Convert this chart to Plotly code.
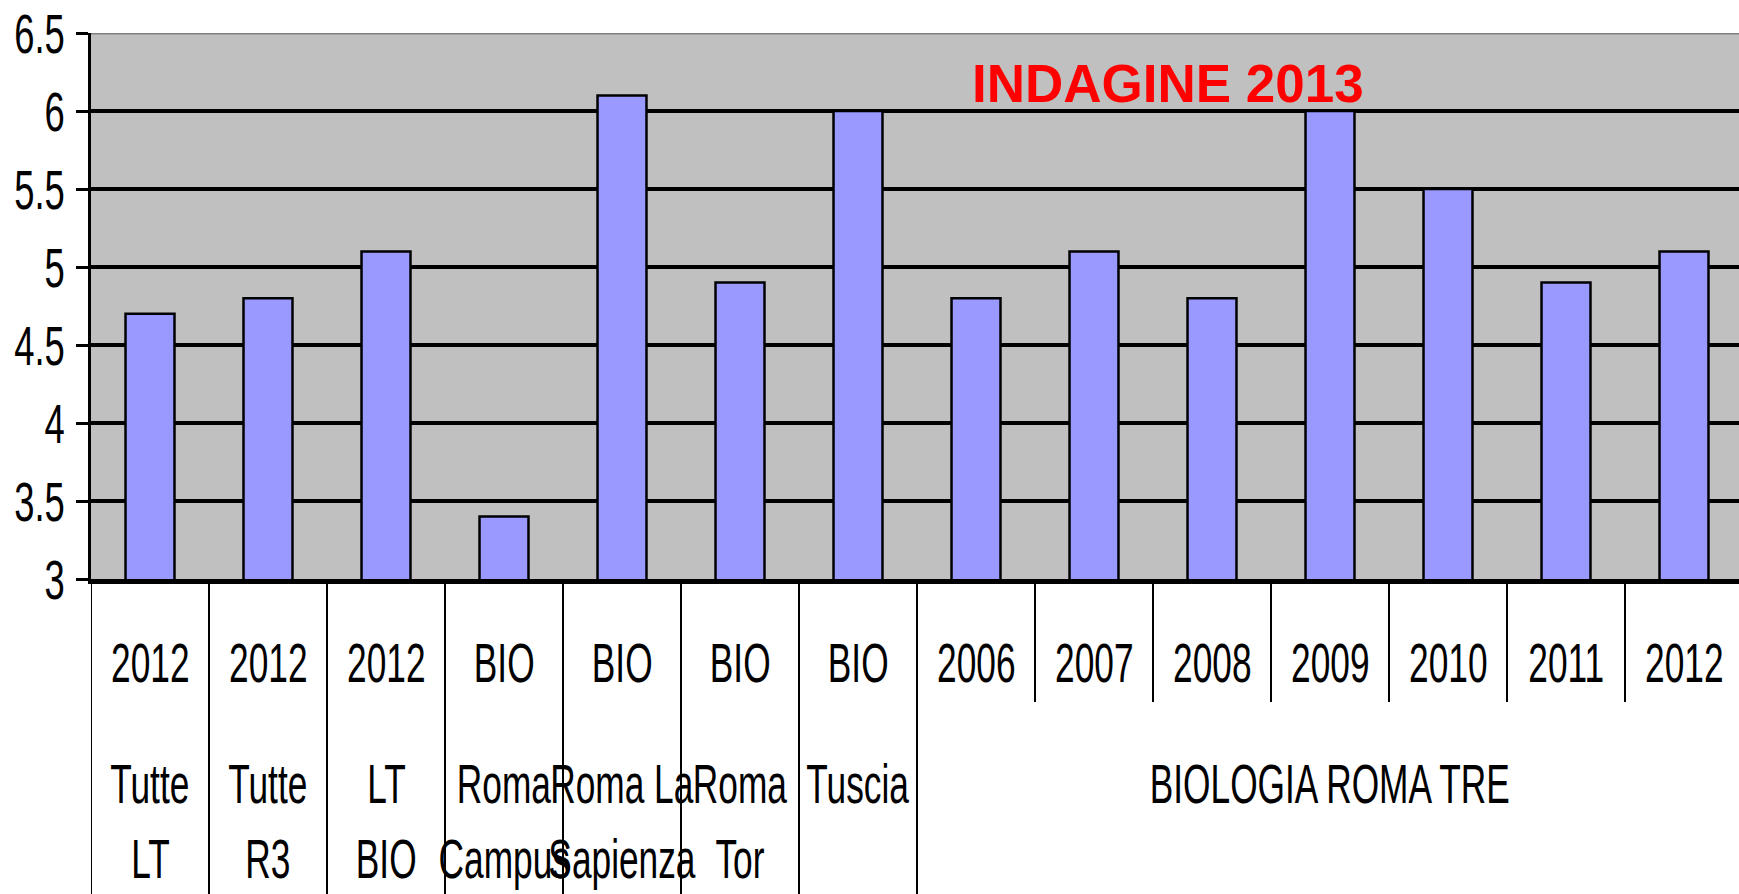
import plotly.graph_objects as go

# ---- data ----
inner_labels = ["2012", "2012", "2012", "BIO", "BIO", "BIO", "BIO",
                "2006", "2007", "2008", "2009", "2010", "2011", "2012"]
group_labels = ["Tutte\nLT", "Tutte\nR3", "LT\nBIO", "Roma\nCampus",
                "Roma La\nSapienza", "Roma\nTor", "Tuscia", "BIOLOGIA ROMA TRE"]
group_sizes = [1, 1, 1, 1, 1, 1, 1, 7]
values = [4.7, 4.8, 5.1, 3.4, 6.1, 4.9, 6.0, 4.8, 5.1, 4.8, 6.0, 5.5, 4.9, 5.1]
y_ticks = [3, 3.5, 4, 4.5, 5, 5.5, 6, 6.5]
title_text = "INDAGINE 2013"

# ---- geometry ----
W, H = 1739, 894
L, R, T, B = 91, 0, 33, 315
plot_h = H - T - B
plot_w = W - L - R
def py(pix):  # pixel y -> paper y
    return (H - B - pix) / plot_h

FONT = "Liberation Sans, Arial, sans-serif"
FS = 56
SQUEEZE = 0.63       # horizontal condensing of category texts (narrow face)
SQUEEZE_Y = 0.65     # horizontal condensing of y tick labels

n = len(values)
xs = list(range(n))

fig = go.Figure(go.Bar(
    x=xs, y=values, width=0.415,
    marker=dict(color="#9999FF", line=dict(color="black", width=2.5)),
    hoverinfo="skip",
))

shapes = []
annotations = []

start = 0
for lab, size in zip(group_labels, group_sizes):
    shapes.append(dict(type="line", xref="x", yref="paper",
                       x0=start - 0.5, x1=start - 0.5, y0=0, y1=py(H + 5),
                       line=dict(color="black", width=2)))
    for k in range(start + 1, start + size):
        shapes.append(dict(type="line", xref="x", yref="paper",
                           x0=k - 0.5, x1=k - 0.5, y0=0, y1=py(702),
                           line=dict(color="black", width=2)))
    center = start + (size - 1) / 2
    for li, line in enumerate(lab.split("\n")):
        annotations.append(dict(xref="x", yref="paper", x=center,
                                y=py(783 + 75 * li), text=line, showarrow=False,
                                xanchor="center", yanchor="middle",
                                font=dict(family=FONT, size=FS, color="black")))
    start += size
shapes.append(dict(type="line", xref="x", yref="paper",
                   x0=start - 0.5, x1=start - 0.5, y0=0, y1=py(H + 5),
                   line=dict(color="black", width=2)))

for i, lab in enumerate(inner_labels):
    annotations.append(dict(xref="x", yref="paper", x=xs[i], y=py(662),
                            text=lab, showarrow=False, xanchor="center",
                            yanchor="middle",
                            font=dict(family=FONT, size=FS, color="black")))

shapes.append(dict(type="line", xref="paper", yref="y", x0=0, x1=1,
                   y0=y_ticks[-1], y1=y_ticks[-1],
                   line=dict(color="#808080", width=3), layer="above"))

annotations.append(dict(xref="paper", yref="paper",
                        x=(1168 - L) / plot_w, y=py(83),
                        text="<b>" + title_text + "</b>", showarrow=False,
                        xanchor="center", yanchor="middle",
                        font=dict(family=FONT, size=53, color="#FF0000")))

fig.update_layout(
    width=W, height=H,
    margin=dict(l=L, r=R, t=T, b=B, pad=0, autoexpand=False),
    paper_bgcolor="white", plot_bgcolor="#C0C0C0",
    showlegend=False,
    shapes=shapes, annotations=annotations,
    xaxis=dict(range=[-0.5, -0.5 + plot_w / 118.0], showgrid=False,
               zeroline=False, showline=True, linecolor="black", linewidth=4.5,
               showticklabels=False, ticks="", fixedrange=True,
               automargin=False),
    yaxis=dict(range=[y_ticks[0], y_ticks[-1]], tickvals=y_ticks,
               ticktext=[f"{v:g}" for v in y_ticks],
               showgrid=True, gridcolor="black", gridwidth=3.5,
               zeroline=False, showline=True, linecolor="black", linewidth=3,
               ticks="outside", ticklen=12, tickwidth=3, tickcolor="black",
               ticklabelstandoff=0, automargin=False,
               tickfont=dict(family=FONT, size=FS, color="black"),
               fixedrange=True),
)

post = """
document.body.style.margin = '0';
document.body.style.padding = '0';
var gd = document.getElementById('{plot_id}');
function sq(t, mode, S){
  var b = t.getBBox();
  var ax = (mode === 'end') ? (b.x + b.width) : (b.x + b.width / 2);
  var old = t.getAttribute('transform') || '';
  t.setAttribute('transform', old + ' translate(' + ax + ',0) scale(' + S + ',1) translate(' + (-ax) + ',0)');
}
gd.querySelectorAll('.ytick text').forEach(function(t){ sq(t, 'end', %s); });
gd.querySelectorAll('text.annotation-text').forEach(function(t){
  if (t.textContent.indexOf('%s') < 0) sq(t, 'mid', %s);
});
""" % (SQUEEZE_Y, title_text, SQUEEZE)

fig.write_html("out.html", post_script=post,
               config={"displayModeBar": False, "staticPlot": True})
